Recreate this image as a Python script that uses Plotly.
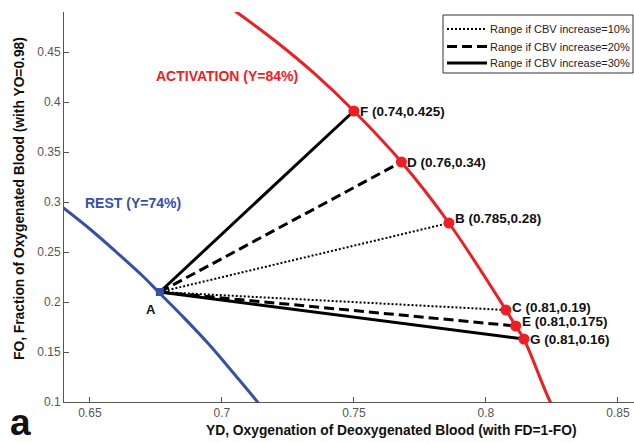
import plotly.graph_objects as go

# ---- data ----
rest_yd = [0.635, 0.640, 0.650, 0.660, 0.670, 0.676, 0.685, 0.695, 0.705, 0.7135, 0.718]
rest_fo = [0.304, 0.294, 0.273, 0.250, 0.226, 0.210, 0.186, 0.158, 0.127, 0.100, 0.084]

act_yd = [0.700, 0.7055, 0.720, 0.735, 0.750, 0.768, 0.786, 0.8076, 0.8113, 0.8144, 0.8244, 0.828]
act_fo = [0.500, 0.490, 0.4615, 0.4286, 0.391, 0.340, 0.279, 0.192, 0.176, 0.163, 0.100, 0.084]

point_a = (0.6765, 0.210)
pt_names = ["F", "D", "B", "C", "E", "G"]
pt_yd = [0.750, 0.768, 0.786, 0.8076, 0.8113, 0.8144]
pt_fo = [0.391, 0.340, 0.279, 0.192, 0.176, 0.163]
pt_labels = ["F (0.74,0.425)", "D (0.76,0.34)", "B (0.785,0.28)",
             "C (0.81,0.19)", "E (0.81,0.175)", "G (0.81,0.16)"]

groups = ["Range if CBV increase=10%", "Range if CBV increase=20%", "Range if CBV increase=30%"]
group_pts = [["B", "C"], ["D", "E"], ["F", "G"]]

x_ticks = [0.65, 0.7, 0.75, 0.8, 0.85]
x_tick_text = ["0.65", "0.7", "0.75", "0.8", "0.85"]
y_ticks = [0.1, 0.15, 0.2, 0.25, 0.3, 0.35, 0.4, 0.45]
y_tick_text = ["0.1", "0.15", "0.2", "0.25", "0.3", "0.35", "0.4", "0.45"]

RED = "#ec2024"
BLUE = "#3450a8"
FONT = "Liberation Sans, Arial, sans-serif"

# plot-area geometry in pixels (for paper-coordinate placement)
L, T, W, H = 64, 12, 570, 390


def px(xp):
    return (xp - L) / W


def py(yp):
    return (T + H - yp) / H


fig = go.Figure()

fig.add_trace(go.Scatter(x=rest_yd, y=rest_fo, mode="lines", line_shape="spline",
                         line=dict(color=BLUE, width=3), showlegend=False, hoverinfo="skip"))
fig.add_trace(go.Scatter(x=act_yd, y=act_fo, mode="lines", line_shape="spline",
                         line=dict(color=RED, width=3), showlegend=False, hoverinfo="skip"))

styles = [dict(dash="2px,2px", width=2), dict(dash="10px,5px", width=3), dict(dash="solid", width=3)]
lookup = {n: (x, y) for n, x, y in zip(pt_names, pt_yd, pt_fo)}
for name, pts, st in zip(groups, group_pts, styles):
    xs, ys = [], []
    for p in pts:
        xs += [point_a[0], lookup[p][0], None]
        ys += [point_a[1], lookup[p][1], None]
    fig.add_trace(go.Scatter(x=xs, y=ys, mode="lines", name=name, showlegend=False,
                             line=dict(color="black", width=st["width"], dash=st["dash"])))

fig.add_trace(go.Scatter(x=pt_yd, y=pt_fo, mode="markers",
                         marker=dict(color=RED, size=11, symbol="circle"),
                         showlegend=False, hoverinfo="skip"))
fig.add_trace(go.Scatter(x=[point_a[0]], y=[point_a[1]], mode="markers",
                         marker=dict(color=BLUE, size=8, symbol="square"),
                         showlegend=False, hoverinfo="skip"))

yshifts = [0, 0, 5, 3, 5, 0]
for x, y, t, ys in zip(pt_yd, pt_fo, pt_labels, yshifts):
    fig.add_annotation(x=x, y=y, text="<b>" + t + "</b>", showarrow=False, xanchor="left",
                       yanchor="middle", xshift=4, yshift=ys,
                       font=dict(family=FONT, size=13.5, color="#111"))

fig.add_annotation(x=point_a[0], y=point_a[1], text="<b>A</b>", showarrow=False,
                   xanchor="center", yanchor="middle", xshift=-9, yshift=-17,
                   font=dict(family=FONT, size=13, color="#111"))
fig.add_annotation(x=0.7021, y=0.426, text="<b>ACTIVATION (Y=84%)</b>", showarrow=False,
                   xanchor="center", yanchor="middle",
                   font=dict(family=FONT, size=14, color=RED))
fig.add_annotation(x=0.6663, y=0.299, text="<b>REST (Y=74%)</b>", showarrow=False,
                   xanchor="center", yanchor="middle",
                   font=dict(family=FONT, size=14, color=BLUE))

fig.add_annotation(xref="paper", yref="paper", x=px(391), y=py(430),
                   text="<b>YD, Oxygenation of Deoxygenated Blood (with FD=1-FO)</b>",
                   showarrow=False, xanchor="center", yanchor="middle",
                   font=dict(family=FONT, size=13.8, color="#111"))
fig.add_annotation(xref="paper", yref="paper", x=px(20), y=py(199),
                   text="<b>FO, Fraction of Oxygenated Blood (with YO=0.98)</b>",
                   showarrow=False, textangle=-90, xanchor="center", yanchor="middle",
                   font=dict(family=FONT, size=13.8, color="#111"))
fig.add_annotation(xref="paper", yref="paper", x=px(8), y=py(445), text="<b>a</b>",
                   showarrow=False, xanchor="left", yanchor="bottom",
                   font=dict(family=FONT, size=37, color="#111"))

# legend box drawn in paper coordinates
fig.add_shape(type="rect", xref="paper", yref="paper",
              x0=px(443), x1=px(633), y0=py(73), y1=py(15),
              line=dict(color="#333", width=1), fillcolor="white", layer="above")
leg_rows = [29, 46.5, 63]
for name, st, ry in zip(groups, styles, leg_rows):
    fig.add_shape(type="line", xref="paper", yref="paper",
                  x0=px(447), x1=px(487), y0=py(ry), y1=py(ry),
                  line=dict(color="black", width=st["width"], dash=st["dash"]), layer="above")
    fig.add_annotation(xref="paper", yref="paper", x=px(488), y=py(ry), text=name,
                       showarrow=False, xanchor="left", yanchor="middle",
                       font=dict(family=FONT, size=11, color="#222"))

fig.update_layout(
    width=634, height=443,
    margin=dict(l=L, r=0, t=T, b=443 - T - H),
    paper_bgcolor="white", plot_bgcolor="white",
    font=dict(family=FONT, size=12, color="#444"),
    showlegend=False,
)
fig.update_xaxes(range=[0.6402, 0.8561], tickvals=x_ticks, ticktext=x_tick_text,
                 ticks="inside", ticklen=5, tickcolor="#555", showline=True,
                 linecolor="#555", linewidth=1, showgrid=False, zeroline=False,
                 tickfont=dict(family=FONT, size=12, color="#555"))
fig.update_yaxes(range=[0.1, 0.49], tickvals=y_ticks, ticktext=y_tick_text,
                 ticks="inside", ticklen=5, tickcolor="#555", showline=True,
                 linecolor="#555", linewidth=1, showgrid=False, zeroline=False,
                 tickfont=dict(family=FONT, size=12, color="#555"))

fig.write_html("out.html")
